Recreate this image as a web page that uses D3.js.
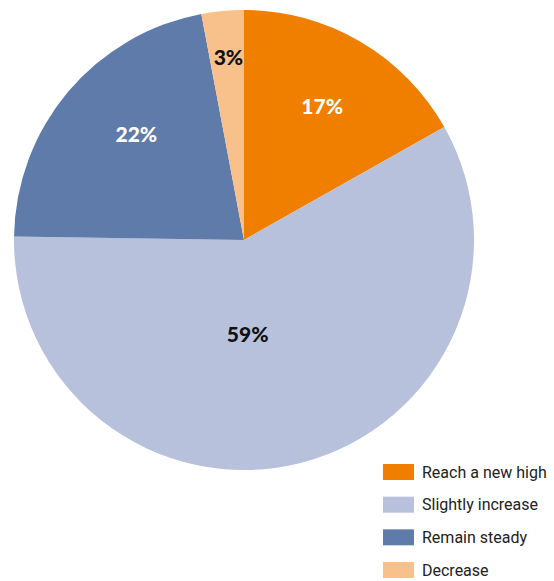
<!DOCTYPE html>
<html><head><meta charset="utf-8">
<script src="https://cdn.jsdelivr.net/npm/d3@7"></script>
<style>body{margin:0;background:#fff;}svg{display:block;}</style>
</head><body>
<script>
const categories = ["Reach a new high", "Slightly increase", "Remain steady", "Decrease"];
const values = [17, 59, 22, 3];
const labels = ["17%", "59%", "22%", "3%"];
const colors = ["#F07F00", "#B8C1DC", "#5E7BAA", "#F8C08A"];
const labelColors = ["#fff", "#111", "#fff", "#111"];
// label placement: [radius, angle offset (rad)] relative to slice centroid angle
const labelPlace = [[155, 0], [95, 0.21], [151, 0.077], [183, 0.008]];

const W = 554, H = 581, cx = 244, cy = 240, R = 230;
const svg = d3.select("body").append("svg").attr("width", W).attr("height", H);
const g = svg.append("g").attr("transform", `translate(${cx},${cy})`);

const pie = d3.pie().sort(null).value(d => d.v);
const data = pie(values.map((v, i) => ({v, i})));
const arc = d3.arc().innerRadius(0).outerRadius(R);

g.selectAll("path").data(data).join("path")
  .attr("d", arc).attr("fill", d => colors[d.data.i]);

g.selectAll("text.lbl").data(data).join("text")
  .attr("class", "lbl")
  .attr("x", d => { const [r, o] = labelPlace[d.data.i]; const a = (d.startAngle + d.endAngle) / 2 + o; return r * Math.sin(a); })
  .attr("y", d => { const [r, o] = labelPlace[d.data.i]; const a = (d.startAngle + d.endAngle) / 2 + o; return -r * Math.cos(a); })
  .attr("text-anchor", "middle").attr("dy", "0.36em")
  .attr("font-family", "Lato, sans-serif").attr("font-weight", 900).attr("font-size", 21)
  .attr("fill", d => labelColors[d.data.i])
  .text(d => labels[d.data.i]);

const y = d3.scalePoint().domain(categories).range([472, 570]);
const leg = svg.append("g");
const rows = leg.selectAll("g").data(categories).join("g")
  .attr("transform", d => `translate(383,${y(d)})`);
rows.append("rect").attr("x", 0).attr("y", -8).attr("width", 31).attr("height", 16)
  .attr("fill", (d, i) => colors[i]);
rows.append("text").attr("x", 39).attr("dy", "0.36em")
  .attr("font-family", "Roboto, sans-serif").attr("font-size", 16).attr("fill", "#222")
  .text(d => d);
</script>
</body></html>
